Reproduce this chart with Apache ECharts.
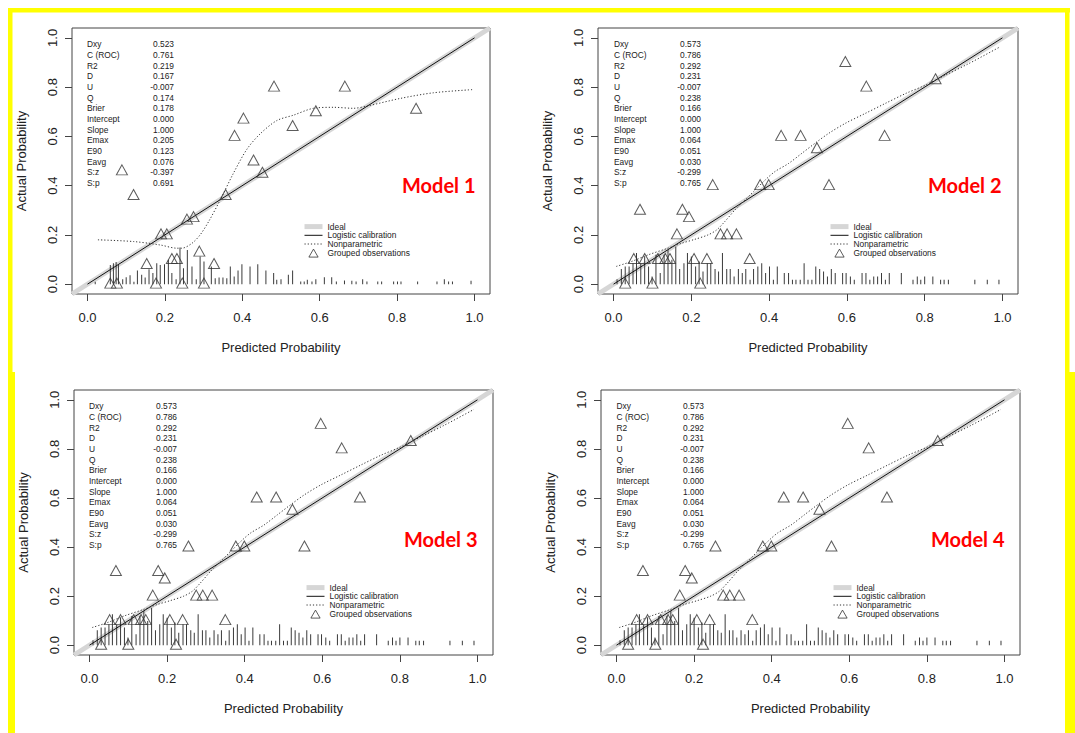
<!DOCTYPE html>
<html><head><meta charset="utf-8">
<script src="https://cdn.jsdelivr.net/npm/echarts@6/dist/echarts.min.js"></script>
<style>html,body{margin:0;padding:0;background:#fff}#c{width:1075px;height:733px}</style>
</head><body><div id="c"></div><script>
// ---------- data ----------
const tickValues = [0, 0.2, 0.4, 0.6, 0.8, 1.0];
const modelNames = ['Model 1', 'Model 2', 'Model 3', 'Model 4'];
const legendNames = ['Ideal', 'Logistic calibration', 'Nonparametric', 'Grouped observations'];
const statNames = ['Dxy','C (ROC)','R2','D','U','Q','Brier','Intercept','Slope','Emax','E90','Eavg','S:z','S:p'];
const stats1 = ['0.523','0.761','0.219','0.167','-0.007','0.174','0.178','0.000','1.000','0.205','0.123','0.076','-0.397','0.691'];
const stats2 = ['0.573','0.786','0.292','0.231','-0.007','0.238','0.166','0.000','1.000','0.064','0.051','0.030','-0.299','0.765'];

const idealLine = [[-0.04,-0.04],[1.04,1.04]];
const logistic1 = [[0,0],[1,1]];
const logistic2 = [[0,0],[1,1]];

const nonpar1 = [[0.027,0.18],[0.119,0.173],[0.188,0.159],[0.231,0.146],[0.244,0.146],[0.27,0.166],[0.291,0.2],[0.313,0.254],[0.343,0.342],[0.377,0.45],[0.412,0.548],[0.446,0.61],[0.489,0.664],[0.532,0.686],[0.584,0.714],[0.636,0.718],[0.687,0.714],[0.722,0.723],[0.808,0.754],[0.894,0.777],[0.997,0.79]];
const nonpar2 = [[0.007,0.072],[0.046,0.092],[0.089,0.119],[0.14,0.146],[0.175,0.166],[0.209,0.182],[0.243,0.2],[0.265,0.22],[0.286,0.254],[0.312,0.301],[0.338,0.342],[0.364,0.382],[0.39,0.423],[0.415,0.457],[0.45,0.49],[0.484,0.531],[0.518,0.572],[0.553,0.612],[0.596,0.653],[0.647,0.693],[0.699,0.734],[0.751,0.774],[0.802,0.808],[0.854,0.849],[0.914,0.896],[0.991,0.961]];

const groups1 = [[0.059,0],[0.076,0],[0.089,0.46],[0.119,0.36],[0.153,0.08],[0.177,0],[0.19,0.2],[0.205,0.2],[0.218,0.1],[0.231,0.1],[0.245,0],[0.257,0.26],[0.274,0.27],[0.289,0.13],[0.301,0],[0.327,0.08],[0.357,0.36],[0.38,0.6],[0.403,0.67],[0.429,0.5],[0.452,0.45],[0.482,0.8],[0.53,0.64],[0.59,0.7],[0.665,0.8],[0.849,0.71]];
const groups2 = [[0.03,0],[0.052,0.1],[0.068,0.3],[0.08,0.1],[0.1,0],[0.114,0.1],[0.133,0.1],[0.145,0.1],[0.163,0.2],[0.177,0.3],[0.194,0.27],[0.207,0.1],[0.223,0],[0.24,0.1],[0.255,0.4],[0.275,0.2],[0.292,0.2],[0.316,0.2],[0.35,0.1],[0.377,0.4],[0.399,0.4],[0.431,0.6],[0.481,0.6],[0.523,0.55],[0.554,0.4],[0.596,0.9],[0.65,0.8],[0.697,0.6],[0.828,0.83]];

const spikes1 = [[0.02,0.01],[0.059,0.078],[0.067,0.085],[0.074,0.09],[0.08,0.078],[0.091,0.02],[0.10,0.028],[0.11,0.036],[0.12,0.01],[0.129,0.055],[0.14,0.038],[0.149,0.027],[0.159,0.06],[0.169,0.045],[0.179,0.085],[0.188,0.078],[0.199,0.081],[0.209,0.099],[0.218,0.045],[0.229,0.02],[0.239,0.149],[0.248,0.065],[0.258,0.139],[0.27,0.072],[0.281,0.02],[0.291,0.112],[0.301,0.092],[0.32,0.072],[0.33,0.024],[0.34,0.027],[0.35,0.027],[0.36,0.024],[0.369,0.072],[0.379,0.031],[0.389,0.055],[0.399,0.081],[0.42,0.072],[0.44,0.081],[0.461,0.055],[0.481,0.045],[0.489,0.018],[0.5,0.02],[0.519,0.038],[0.53,0.055],[0.551,0.011],[0.56,0.011],[0.568,0.018],[0.58,0.011],[0.59,0.02],[0.612,0.028],[0.631,0.028],[0.643,0.011],[0.664,0.015],[0.683,0.014],[0.694,0.011],[0.711,0.02],[0.722,0.011],[0.75,0.011],[0.76,0.011],[0.791,0.011],[0.801,0.011],[0.81,0.011],[0.853,0.011],[0.903,0.011],[0.922,0.02],[0.933,0.011],[0.943,0.011],[0.991,0.014]];
const spikes2 = [[0.009,0.02],[0.02,0.061],[0.03,0.072],[0.04,0.072],[0.05,0.085],[0.059,0.126],[0.07,0.085],[0.08,0.112],[0.09,0.072],[0.099,0.031],[0.109,0.119],[0.12,0.045],[0.13,0.119],[0.14,0.139],[0.15,0.099],[0.16,0.153],[0.17,0.061],[0.181,0.085],[0.19,0.126],[0.2,0.112],[0.211,0.072],[0.22,0.092],[0.23,0.051],[0.241,0.085],[0.25,0.085],[0.261,0.061],[0.27,0.051],[0.28,0.126],[0.291,0.061],[0.3,0.061],[0.31,0.031],[0.321,0.061],[0.331,0.045],[0.34,0.061],[0.351,0.018],[0.36,0.061],[0.371,0.072],[0.381,0.085],[0.391,0.045],[0.401,0.072],[0.411,0.018],[0.421,0.072],[0.439,0.045],[0.45,0.045],[0.46,0.018],[0.469,0.018],[0.48,0.018],[0.49,0.085],[0.5,0.018],[0.51,0.018],[0.52,0.072],[0.53,0.061],[0.54,0.051],[0.55,0.031],[0.56,0.061],[0.57,0.045],[0.589,0.045],[0.598,0.045],[0.609,0.031],[0.619,0.018],[0.639,0.045],[0.649,0.045],[0.659,0.018],[0.669,0.031],[0.679,0.031],[0.689,0.045],[0.699,0.018],[0.709,0.045],[0.74,0.045],[0.77,0.018],[0.781,0.031],[0.79,0.018],[0.8,0.031],[0.821,0.031],[0.841,0.018],[0.85,0.018],[0.861,0.018],[0.929,0.018],[0.961,0.018],[0.991,0.018]];

// ---------- layout ----------
const panelData = [
  {stats: stats1, logistic: logistic1, nonpar: nonpar1, groups: groups1, spikes: spikes1},
  {stats: stats2, logistic: logistic2, nonpar: nonpar2, groups: groups2, spikes: spikes2},
  {stats: stats2, logistic: logistic2, nonpar: nonpar2, groups: groups2, spikes: spikes2},
  {stats: stats2, logistic: logistic2, nonpar: nonpar2, groups: groups2, spikes: spikes2}
];
const layout = [
  {left:72, top:28, width:418, height:266, statL:87, statR:174, statTop:39, legL:302, legT:222.5, titleL:402, titleT:175},
  {left:598, top:28, width:420, height:266, statL:614, statR:701, statTop:39, legL:828, legT:222.5, titleL:928, titleT:175},
  {left:74, top:390, width:419, height:265, statL:89, statR:177, statTop:401, legL:304, legT:583.5, titleL:404, titleT:529},
  {left:601, top:390, width:419, height:265, statL:616.5, statR:704, statTop:401, legL:831, legT:583.5, titleL:931, titleT:529}
];

const FONT = '"Liberation Sans", Arial, sans-serif';
const TRI = 'path://M5,0L10,8.66L0,8.66Z';
const grids = [], xAxes = [], yAxes = [], series = [], legends = [], titles = [], graphics = [];

layout.forEach((L, i) => {
  const D = panelData[i];
  grids.push({left:L.left, top:L.top, width:L.width, height:L.height, show:true, borderColor:'#444', borderWidth:1, backgroundColor:'transparent'});
  const axisCommon = {
    gridIndex:i, type:'value', min:-0.04, max:1.04,
    splitLine:{show:false}, axisLine:{show:false, onZero:false},
    axisTick:{show:true, length:7, lineStyle:{color:'#444'}, customValues:tickValues},
    nameLocation:'middle',
    nameTextStyle:{fontSize:13, fontFamily:FONT, color:'#222'}
  };
  xAxes.push(Object.assign({}, axisCommon, {
    name:'Predicted Probability', nameGap:47,
    axisLabel:{customValues:tickValues, formatter:v => v.toFixed(1), margin:17, fontSize:13, fontFamily:FONT, color:'#222'}
  }));
  yAxes.push(Object.assign({}, axisCommon, {
    name:'Actual Probability', nameGap:44,
    axisLabel:{customValues:tickValues, formatter:v => v.toFixed(1), rotate:90, margin:13, fontSize:13, fontFamily:FONT, color:'#222'}
  }));
  series.push(
    {type:'line', name:'Ideal', xAxisIndex:i, yAxisIndex:i, data:idealLine, symbol:'none', silent:true, lineStyle:{color:'#d6d6d6', width:5}, z:1},
    {type:'bar', name:'spikes'+i, xAxisIndex:i, yAxisIndex:i, data:D.spikes, barWidth:1, silent:true, itemStyle:{color:'#3a3a3a'}, z:2},
    {type:'line', name:'Logistic calibration', xAxisIndex:i, yAxisIndex:i, data:D.logistic, symbol:'none', silent:true, lineStyle:{color:'#111', width:1}, z:3},
    {type:'line', name:'Nonparametric', xAxisIndex:i, yAxisIndex:i, data:D.nonpar, symbol:'none', smooth:0.3, silent:true, lineStyle:{color:'#333', width:1, type:[1.2,2]}, z:3},
    {type:'scatter', name:'Grouped observations', xAxisIndex:i, yAxisIndex:i, data:D.groups, symbol:'triangle', symbolSize:[11,10], symbolOffset:[0,-1], silent:true,
      itemStyle:{color:'rgba(255,255,255,0)', borderColor:'#333', borderWidth:1}, z:4}
  );
  const hideSym = {color:'transparent', borderWidth:0, opacity:0};
  legends.push({
    orient:'vertical', left:L.legL, top:L.legT, padding:0, itemWidth:18, itemHeight:8, itemGap:0.5, selectedMode:false,
    textStyle:{fontSize:8.4, fontFamily:FONT, color:'#222', lineHeight:8.2},
    data:[
      {name:legendNames[0], itemStyle:hideSym, lineStyle:{width:5, color:'#d6d6d6'}},
      {name:legendNames[1], itemStyle:hideSym, lineStyle:{width:1, color:'#111'}},
      {name:legendNames[2], itemStyle:hideSym, lineStyle:{width:1, color:'#333', type:[1.2,2]}},
      {name:legendNames[3], icon:TRI, itemStyle:{color:'rgba(255,255,255,0)', borderColor:'#333', borderWidth:1}}
    ]
  });
  titles.push({text:modelNames[i], left:L.titleL, top:L.titleT, padding:0,
    textStyle:{color:'#ff0000', fontWeight:'bold', fontSize:20, fontFamily:'Lato, "Open Sans", sans-serif'}});
  graphics.push(
    {type:'text', x:L.statL, y:L.statTop, silent:true,
      style:{text:statNames.join('\n'), align:'left', verticalAlign:'top', font:'8.4px ' + FONT, lineHeight:10.67, fill:'#222'}},
    {type:'text', x:L.statR, y:L.statTop, silent:true,
      style:{text:D.stats.join('\n'), align:'right', verticalAlign:'top', font:'8.4px ' + FONT, lineHeight:10.67, fill:'#222'}}
  );
});

// yellow frame
graphics.push(
  {type:'rect', silent:true, shape:{x:8, y:8, width:1062, height:4.5}, style:{fill:'#ffff00'}},
  {type:'rect', silent:true, shape:{x:8, y:8, width:4.5, height:725}, style:{fill:'#ffff00'}},
  {type:'rect', silent:true, shape:{x:8, y:372, width:7, height:361}, style:{fill:'#ffff00'}},
  {type:'rect', silent:true, shape:{x:1065, y:8, width:4.5, height:725}, style:{fill:'#ffff00'}},
  {type:'rect', silent:true, shape:{x:1067, y:372, width:8, height:361}, style:{fill:'#ffff00'}}
);

const chart = echarts.init(document.getElementById('c'), null, {renderer:'svg', width:1075, height:733});
chart.setOption({
  backgroundColor:'#ffffff',
  animation:false,
  title:titles,
  legend:legends,
  grid:grids,
  xAxis:xAxes,
  yAxis:yAxes,
  series:series,
  graphic:graphics
});
</script></body></html>
